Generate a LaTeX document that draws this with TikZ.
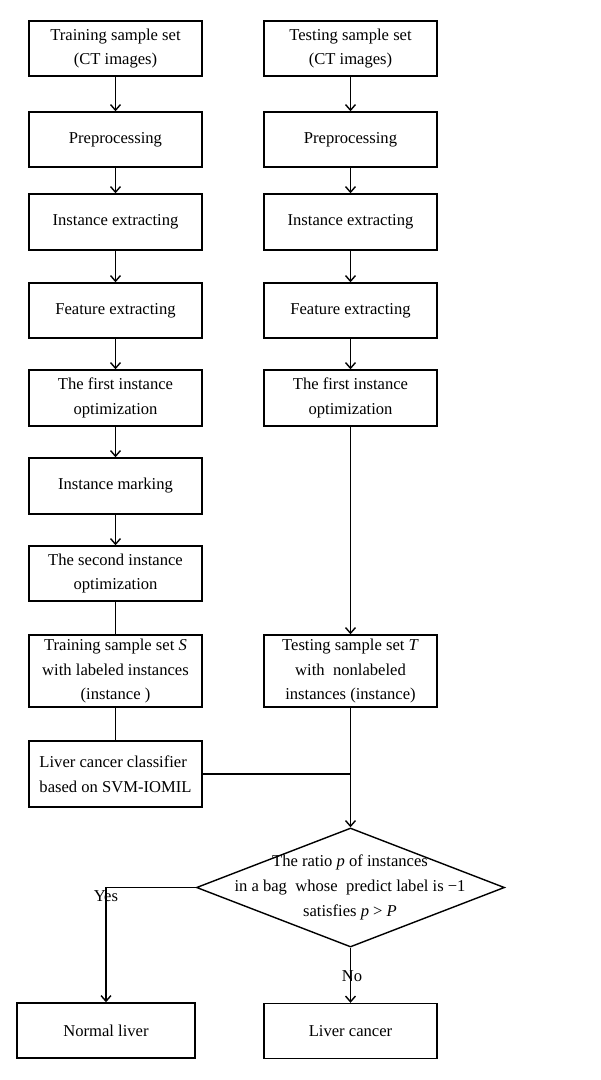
\documentclass[tikz,border=0pt]{standalone}
\usepackage{fontspec}
\setmainfont{Liberation Serif}
\usepackage{tikz}
\usetikzlibrary{positioning,shapes.geometric,arrows.meta,calc}

\begin{document}
\begin{tikzpicture}[x=0.025cm,y=-0.025cm,
	box/.style={draw, line width=1pt, rectangle, fill=white, align=center, inner sep=2pt, minimum width=4.325cm, minimum height=1.375cm, font=\fontsize{11.8}{17.5}\selectfont},
	arr/.style={line width=1pt, -{Straight Barb[length=4pt,width=7pt]}},
	lbl/.style={font=\fontsize{11.8}{17.5}\selectfont, inner sep=0pt}]
				\useasboundingbox (0,0) rectangle (600,1080);
				% left column
				\node[box] (trainSet) at (115.5, 48.5) {Training sample set\\ (CT images)};
				\node[box] (trainPre) at (115.5, 139.5) {Preprocessing};
				\node[box, minimum height=1.4cm] (trainInst) at (115.5, 222) {Instance extracting};
				\node[box] (trainFeat) at (115.5, 310.5) {Feature extracting};
				\node[box, minimum height=1.4cm] (trainOpt1) at (115.5, 398) {The first instance\\optimization};
				\node[box, minimum height=1.4cm] (trainMark) at (115.5, 486) {Instance marking};
				\node[box] (trainOpt2) at (115.5, 573.5) {The second instance\\optimization};
				\node[box, minimum height=1.8cm] (trainS) at (115.5, 671) {Training sample set \textit{S}\\with labeled instances\\(instance\ )};
				\node[box, minimum height=1.65cm, align=left] (clf) at (115.5, 774) {Liver cancer classifier\\based on SVM-IOMIL};
				% right column
				\node[box] (testSet) at (350.5, 48.5) {Testing sample set\\ (CT images)};
				\node[box] (testPre) at (350.5, 139.5) {Preprocessing};
				\node[box, minimum height=1.4cm] (testInst) at (350.5, 222) {Instance extracting};
				\node[box] (testFeat) at (350.5, 310.5) {Feature extracting};
				\node[box, minimum height=1.4cm] (testOpt1) at (350.5, 398) {The first instance\\optimization};
				\node[box, minimum height=1.8cm] (testT) at (350.5, 671) {Testing sample set \textit{T}\\with\ \ nonlabeled\\instances (instance)};
				% decision
				\node[draw, line width=1pt, diamond, minimum width=7.7cm, minimum height=2.975cm, inner sep=0pt] (dec) at (350.5, 887.5) {};
				\node[lbl, align=center] (decText) at (350, 887.5) {The ratio \textit{p} of instances\\in a bag\ \ whose\ \ predict label is −1\\satisfies \textit{p} > \textit{P}};
				\node[box, minimum width=4.45cm] (normal) at (106, 1030.5) {Normal liver};
				\node[box] (cancer) at (350.5, 1031) {Liver cancer};
				\coordinate (j) at (350.5, 774);
				% connectors
				\draw[arr] (trainSet) -- (trainPre);
				\draw[arr] (trainPre) -- (trainInst);
				\draw[arr] (trainInst) -- (trainFeat);
				\draw[arr] (trainFeat) -- (trainOpt1);
				\draw[arr] (trainOpt1) -- (trainMark);
				\draw[arr] (trainMark) -- (trainOpt2);
				\draw[line width=1pt] (trainOpt2) -- (trainS);
				\draw[line width=1pt] (trainS) -- (clf);
				\draw[arr] (testSet) -- (testPre);
				\draw[arr] (testPre) -- (testInst);
				\draw[arr] (testInst) -- (testFeat);
				\draw[arr] (testFeat) -- (testOpt1);
				\draw[arr] (testOpt1) -- (testT);
				\draw[line width=1pt] (testT) -- (j);
				\draw[line width=1pt] (clf) -- (j);
				\draw[arr] (j) -- (dec.north);
				\draw[arr] (dec.west) -| (normal.north);
				\draw[arr] (dec.south) -- (cancer.north);
				\node[lbl] (yes) at (106, 896) {Yes};
				\node[lbl] (no) at (352, 976) {No};
\end{tikzpicture}
\end{document}
